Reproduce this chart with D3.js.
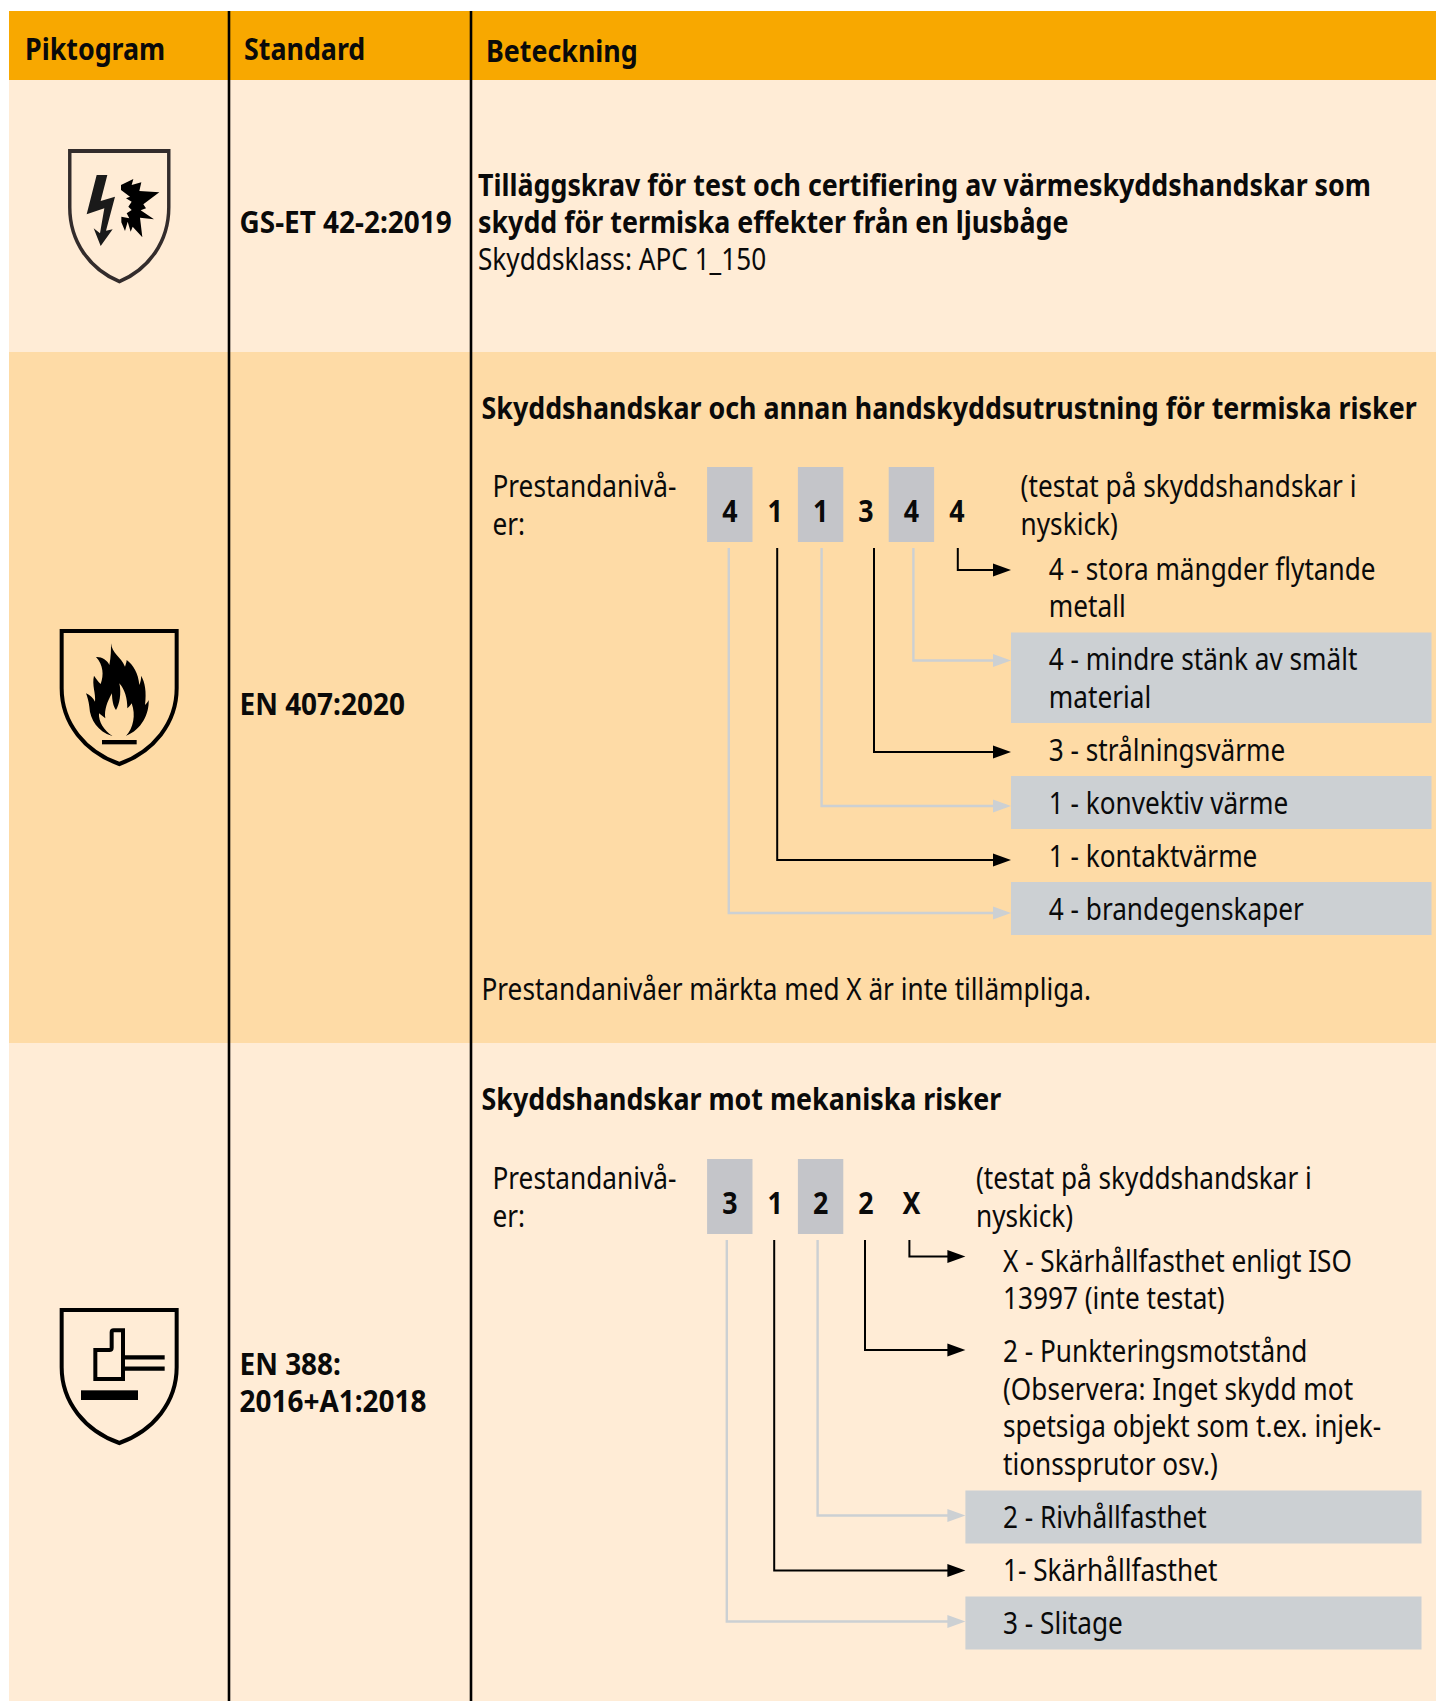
<!DOCTYPE html>
<html lang="sv">
<head>
<meta charset="utf-8">
<title>Piktogram</title>
<script src="https://cdn.jsdelivr.net/npm/d3@7"></script>
<style>
body { margin: 0; background: #fff; }
svg { display: block; }
text { font-family: "Noto Sans", sans-serif; fill: #0a0a0a; }
</style>
</head>
<body>
<div id="viz-container"></div>
<script>
var headers = ["Piktogram", "Standard", "Beteckning"];
var rowNames = ["header", "gs", "en407", "en388"];
var standards = [["GS-ET 42-2:2019"], ["EN 407:2020"], ["EN 388:", "2016+A1:2018"]];

var gsTitle = ["Tilläggskrav för test och certifiering av värmeskyddshandskar som",
               "skydd för termiska effekter från en ljusbåge"];
var gsClass = "Skyddsklass: APC 1_150";

var title407 = "Skyddshandskar och annan handskyddsutrustning för termiska risker";
var title388 = "Skyddshandskar mot mekaniska risker";
var footer407 = "Prestandanivåer märkta med X är inte tillämpliga.";
var levelLabel = ["Prestandanivå-", "er:"];
var testedNote = ["(testat på skyddshandskar i", "nyskick)"];

var digits407 = ["4", "1", "1", "3", "4", "4"];
var digits388 = ["3", "1", "2", "2", "X"];

// listed top to bottom, digit = which position of the code the row explains
var items407 = [
  {digit: 5, lines: ["4 - stora mängder flytande", "metall"]},
  {digit: 4, lines: ["4 - mindre stänk av smält", "material"]},
  {digit: 3, lines: ["3 - strålningsvärme"]},
  {digit: 2, lines: ["1 - konvektiv värme"]},
  {digit: 1, lines: ["1 - kontaktvärme"]},
  {digit: 0, lines: ["4 - brandegenskaper"]}
];
var items388 = [
  {digit: 4, lines: ["X - Skärhållfasthet enligt ISO", "13997 (inte testat)"]},
  {digit: 3, lines: ["2 - Punkteringsmotstånd", "(Observera: Inget skydd mot", "spetsiga objekt som t.ex. injek-", "tionssprutor osv.)"]},
  {digit: 2, lines: ["2 - Rivhållfasthet"]},
  {digit: 1, lines: ["1- Skärhållfasthet"]},
  {digit: 0, lines: ["3 - Slitage"]}
];

// layout
var W = 1436, H = 1701;
var rowEdges = [11, 80, 352, 1043, H];
var colEdges = [9, 229, 471, W];
var rowColor = d3.scaleOrdinal().domain(rowNames).range(["#f8a800", "#ffecd6", "#fedba6", "#ffecd6"]);
var GREY_BOX = "#c4c5c9", GREY_ROW = "#ccd0d3";
var FONT = 30, LINE = 37.5;
// no condensed face installed, so Noto Sans is squeezed horizontally
var SQUEEZE = 0.873, SQUEEZE_BOLD = 0.894, SQUEEZE_STANDARD = 0.932;
var BOX_LEFT = 707.1, BOX_STEP = 45.4;

var svg = d3.select("#viz-container").append("svg").attr("width", W).attr("height", H);

function label(parent, str, x, y, bold, squeeze) {
  var k = squeeze || (bold ? SQUEEZE_BOLD : SQUEEZE);
  return parent.append("text")
    .attr("transform", "translate(" + x + "," + y + ") scale(" + k + ",1)")
    .attr("font-size", FONT)
    .attr("font-weight", bold ? 700 : 400)
    .text(str);
}

function block(parent, lines, x, y, bold, squeeze) {
  lines.forEach(function(l, i) { label(parent, l, x, y + i * LINE, bold, squeeze); });
}

// background bands
svg.selectAll(".band").data(rowNames).enter().append("rect")
  .attr("class", "band")
  .attr("x", colEdges[0])
  .attr("y", function(d, i) { return rowEdges[i]; })
  .attr("width", W - colEdges[0])
  .attr("height", function(d, i) { return rowEdges[i + 1] - rowEdges[i]; })
  .attr("fill", function(d) { return rowColor(d); });

[colEdges[1], colEdges[2]].forEach(function(x) {
  svg.append("line").attr("x1", x).attr("x2", x).attr("y1", rowEdges[0]).attr("y2", H)
    .attr("stroke", "#000").attr("stroke-width", 2.6);
});

// header
label(svg, headers[0], 25, 60, true);
label(svg, headers[1], 244, 60, true);
label(svg, headers[2], 486, 62, true);

// standard column
label(svg, standards[0][0], 239.5, 232.5, true, SQUEEZE_STANDARD);
label(svg, standards[1][0], 239.5, 714.5, true, SQUEEZE_STANDARD);
block(svg, standards[2], 239.5, 1374.5, true, SQUEEZE_STANDARD);

// first row text
label(svg, gsTitle[0], 478, 195.5, true);
label(svg, gsTitle[1], 478, 232.5, true);
label(svg, gsClass, 478, 270, false);

// a coded block: digit boxes on top, explanation rows below, leaders in between
function codeBlock(opt) {
  var g = svg.append("g");
  var codes = opt.digits.map(function(d, i) {
    return {digit: d, i: i, marked: i % 2 === 0 && d !== "X"};
  });
  var x = d3.scaleBand().domain(d3.range(codes.length))
    .range([BOX_LEFT, BOX_LEFT + BOX_STEP * codes.length]);

  block(g, levelLabel, 492.5, opt.boxTop + 30, false);
  block(g, testedNote, opt.noteX, opt.boxTop + 30, false);

  g.selectAll(".digit-box").data(codes.filter(function(c) { return c.marked; })).enter().append("rect")
    .attr("class", "digit-box")
    .attr("x", function(c) { return x(c.i); })
    .attr("y", opt.boxTop)
    .attr("width", x.bandwidth())
    .attr("height", 75)
    .attr("fill", GREY_BOX);

  g.selectAll(".digit").data(codes).enter().append("text")
    .attr("class", "digit")
    .attr("transform", function(c) {
      return "translate(" + (x(c.i) + x.bandwidth() / 2) + "," + (opt.boxTop + 55) + ") scale(" + SQUEEZE_BOLD + ",1)";
    })
    .attr("text-anchor", "middle")
    .attr("font-size", FONT)
    .attr("font-weight", 700)
    .text(function(c) { return c.digit; });

  var top = opt.itemsTop;
  opt.items.forEach(function(item, k) {
    var h = 53 + LINE * (item.lines.length - 1);
    var marked = codes[item.digit].marked;
    var color = marked ? GREY_ROW : "#000";
    if (marked) {
      g.append("rect").attr("x", opt.arrowTip).attr("y", top)
        .attr("width", opt.itemRight - opt.arrowTip).attr("height", h)
        .attr("fill", GREY_ROW);
    }
    block(g, item.lines, opt.itemText, top + opt.textDrop, false);

    var lx = x(item.digit) + x.bandwidth() / 2 + opt.shift[item.digit];
    var ly = top + opt.arrowDrop[k];
    g.append("path")
      .attr("d", d3.line()([[lx, opt.boxTop + 81], [lx, ly], [opt.arrowTip - 16, ly]]))
      .attr("fill", "none").attr("stroke", color).attr("stroke-width", marked ? 2.4 : 2);
    g.append("path")
      .attr("d", d3.line()([[opt.arrowTip, ly], [opt.arrowTip - 18, ly - 6.5], [opt.arrowTip - 18, ly + 6.5]]) + "Z")
      .attr("fill", color);
    top += h;
  });
}

label(svg, title407, 481.5, 418.5, true);
codeBlock({
  digits: digits407, items: items407, boxTop: 467, itemsTop: 542, textDrop: 37.5,
  noteX: 1020.6, arrowTip: 1011, itemText: 1048.8, itemRight: 1431.5,
  shift: [-1, 2, 1, 8, 2, 1], arrowDrop: [28, 28, 29, 30, 31, 31]
});
label(svg, footer407, 481.5, 999.5, false);

label(svg, title388, 481.5, 1110, true);
codeBlock({
  digits: digits388, items: items388, boxTop: 1159, itemsTop: 1234.5, textDrop: 37,
  noteX: 976, arrowTip: 965.4, itemText: 1003, itemRight: 1421.5,
  shift: [-3, -1, -3, -1, -2], arrowDrop: [22, 25, 25, 27, 25]
});

var shieldPath = "M95 63L440 63L440 235C440 340 370 425 268 462C165 425 95 340 95 235Z";

function icon(px, py) {
  return svg.append("g").attr("transform", "translate(" + px + "," + py + ") scale(" + (1 / 3) + ")");
}

svg.append("g").attr("transform", "translate(42.5,130.4) scale(0.287,0.327)")
  .append("path").attr("d", shieldPath).attr("fill", "none").attr("stroke", "#332c2c").attr("stroke-width", 12);
var bolt = icon(80, 165);
bolt.append("path").attr("fill", "#1a1a1a")
  .attr("d", "M50 30L82 30L62 108L105 95L78 197L98 193L62 243L41 190L60 205L73 130L20 148Z");
bolt.append("path").attr("fill", "#000")
  .attr("d", "M123 60L160 42L155 60L184 52L178 78L238 82L190 118L198 130L182 136L222 163L180 158L187 217L158 185L152 200L143 170L135 198L124 172L124 155L148 160L140 145L155 135L145 125L155 110L138 100L150 95L123 75Z");

var fire = icon(30, 610);
fire.append("path").attr("d", shieldPath).attr("fill", "none").attr("stroke", "#000").attr("stroke-width", 12);
fire.append("path").attr("fill", "#000")
  .attr("d", "M243 100C246 130 272 140 285 170C288 160 290 155 290 150C310 165 325 190 328 225C332 215 334 205 333 197C345 215 350 245 345 285C350 280 354 275 356 270C358 310 335 360 288 377L245 377C205 365 180 330 178 290C176 275 172 260 168 250C180 255 190 265 195 275C198 250 185 225 192 197C197 205 205 215 212 222C222 195 220 165 198 141C215 140 232 150 238 165C243 140 243 120 243 100Z");
fire.append("path").attr("fill", rowColor("en407"))
  .attr("d", "M247 378C222 362 205 335 207 310C213 315 220 320 226 325C222 300 232 275 246 250C246 270 250 290 258 300C268 285 275 250 268 220C285 240 292 265 292 295C298 290 302 285 305 280C318 315 310 355 288 378Z");
fire.append("rect").attr("x", 216).attr("y", 390).attr("width", 104).attr("height", 13).attr("fill", "#000");

var hammer = icon(30, 1289);
hammer.append("path").attr("d", shieldPath).attr("fill", "none").attr("stroke", "#000").attr("stroke-width", 12);
hammer.append("path").attr("fill", "none").attr("stroke", "#000").attr("stroke-width", 12)
  .attr("d", "M196 183L238 183Q245 183 245 176L245 130Q245 124 251 124L279 124L279 270L196 270Z");
hammer.append("path").attr("fill", "none").attr("stroke", "#000").attr("stroke-width", 13)
  .attr("d", "M285 205L404 205M285 239L404 239");
hammer.append("rect").attr("x", 153).attr("y", 304).attr("width", 171).attr("height", 29).attr("fill", "#000");
</script>
</body>
</html>
